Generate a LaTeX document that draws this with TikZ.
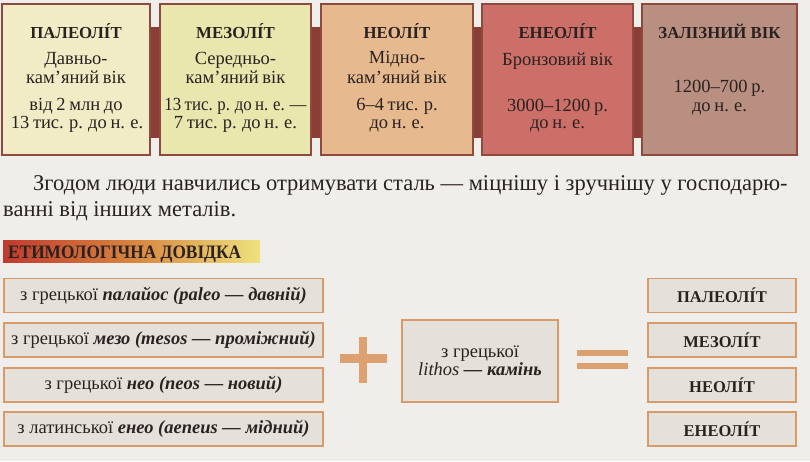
\documentclass[tikz,border=0pt]{standalone}
\usepackage{fontspec}
\setmainfont{Liberation Serif}
\definecolor{bgc}{HTML}{F0EEEB}
\definecolor{txt}{HTML}{2A2220}
\definecolor{tborder}{HTML}{8E4A3E}
\definecolor{band}{HTML}{8A3F36}
\definecolor{cA}{HTML}{F2ECC6}
\definecolor{cB}{HTML}{E9E6AE}
\definecolor{cC}{HTML}{E7B98F}
\definecolor{cD}{HTML}{CC6F68}
\definecolor{cE}{HTML}{B88F80}
\definecolor{efill}{HTML}{E4E0DA}
\definecolor{eborder}{HTML}{D89A68}
\definecolor{sym}{HTML}{DDA070}
\definecolor{bannerL}{HTML}{C03A2E}
\definecolor{bannerM}{HTML}{D8843E}
\definecolor{bannerR}{HTML}{EEE27C}
\newcommand{\tightsp}{\spaceskip=0.2em plus 0.05em minus 0.02em\relax}
\tikzset{
  topbox/.style={draw=tborder, line width=1.8pt, fill=#1, minimum height=151pt, inner sep=0pt},
  hd/.style={font=\bfseries\fontsize{16.8}{18}\selectfont, anchor=base, text=txt, inner sep=0pt},
  tx/.style={font=\fontsize{18.5}{20}\selectfont\tightsp, anchor=base, text=txt, inner sep=0pt},
  ebox/.style={draw=eborder, line width=1.4pt, fill=efill, text=txt, inner sep=0pt, minimum height=34pt},
  etx/.style={font=\fontsize{18.5}{20}\selectfont},
  ehd/.style={font=\bfseries\fontsize{16.5}{18}\selectfont},
  symbar/.style={fill=sym, inner sep=0pt},
  para/.style={font=\fontsize{22.5}{24}\selectfont, anchor=base west, text=txt, inner sep=0pt}
}
\newcommand{\ety}[1]{{\bfseries\itshape #1}}
\begin{document}
\begin{tikzpicture}[x=1pt,y=-1pt]
\useasboundingbox (0,0) rectangle (810,461);
\fill[bgc] (0,0) rectangle (810,461);
% band behind top boxes
\node[fill=band, minimum width=792pt, minimum height=111pt, inner sep=0pt] (band) at (399,82.5) {};
% top boxes
\node[topbox=cA, minimum width=148pt] (p1) at (76,79.5) {};
\node[topbox=cB, minimum width=151pt] (p2) at (235.5,79.5) {};
\node[topbox=cC, minimum width=152pt] (p3) at (397,79.5) {};
\node[topbox=cD, minimum width=151pt] (p4) at (557.5,79.5) {};
\node[topbox=cE, minimum width=155pt] (p5) at (719.5,79.5) {};
% box 1
\node[hd] (p1h) at (76,38) {ПАЛЕОЛІ́Т};
\node[tx] (p1a) at (76,64) {Давньо-};
\node[tx] (p1b) at (76,83) {кам'яний вік};
\node[tx] (p1c) at (76,110) {від 2 млн до};
\node[tx] (p1d) at (77,128) {13 тис. р. до н. е.};
% box 2
\node[hd] (p2h) at (235.5,38) {МЕЗОЛІ́Т};
\node[tx] (p2a) at (235.5,64) {Середньо-};
\node[tx] (p2b) at (235.5,83) {кам'яний вік};
\node[tx] (p2c) at (235.5,110) {\scalebox{0.91}[1]{13 тис. р. до н. е. —}};
\node[tx] (p2d) at (235.5,128) {7 тис. р. до н. е.};
% box 3
\node[hd] (p3h) at (397,38) {НЕОЛІ́Т};
\node[tx] (p3a) at (397,63) {Мідно-};
\node[tx] (p3b) at (397,83) {кам'яний вік};
\node[tx] (p3c) at (397,110) {6–4 тис. р.};
\node[tx] (p3d) at (397,128) {до н. е.};
% box 4
\node[hd] (p4h) at (557.5,38) {ЕНЕОЛІ́Т};
\node[tx] (p4a) at (557.5,65) {Бронзовий вік};
\node[tx] (p4c) at (557.5,111) {3000–1200 р.};
\node[tx] (p4d) at (557.5,128) {до н. е.};
% box 5
\node[hd] (p5h) at (719.5,38) {ЗАЛІЗНИЙ ВІК};
\node[tx] (p5c) at (719.5,92) {1200–700 р.};
\node[tx] (p5d) at (719.5,111) {до н. е.};
% paragraph
\node[para] (par1) at (33,190) {Згодом люди навчились отримувати сталь — міцнішу і зручнішу у господарю-};
\node[para] (par2) at (3,216) {ванні від інших металів.};
% banner
\node[left color=bannerL, right color=bannerR, middle color=bannerM, minimum width=257pt, minimum height=22pt, inner sep=0pt, anchor=north west] (ban) at (3,240) {};
\node[font=\bfseries\fontsize{19}{20}\selectfont, text=txt, anchor=base west, inner sep=0pt] (bant) at (8,258) {\scalebox{0.91}[1]{ЕТИМОЛОГІЧНА ДОВІДКА}};
% left etymology boxes
\node[ebox, etx, minimum width=319pt] (e1) at (163.5,295.5) {з грецької \ety{палайос (paleo — давній)}};
\node[ebox, etx, minimum width=319pt] (e2) at (163.5,340) {з грецької \ety{мезо (mesos — проміжний)}};
\node[ebox, etx, minimum width=319pt] (e3) at (163.5,385) {з грецької \ety{нео (neos — новий)}};
\node[ebox, etx, minimum width=319pt] (e4) at (163.5,429) {з латинської \ety{енео (aeneus — мідний)}};
% plus
\node[symbar, minimum width=47pt, minimum height=9pt] (plush) at (363.5,358) {};
\node[symbar, minimum width=8pt, minimum height=46pt] (plusv) at (363,360) {};
% middle box
\node[ebox, etx, minimum width=156pt, minimum height=82pt, align=center] (mid) at (480,361) {з грецької\\[-2pt]\textit{lithos} \ety{— камінь}};
% equals
\node[symbar, minimum width=51pt, minimum height=6pt] (eq1) at (602.5,353) {};
\node[symbar, minimum width=51pt, minimum height=6pt] (eq2) at (602.5,366) {};
% right boxes
\node[ebox, ehd, minimum width=148pt] (r1) at (722,295.5) {ПАЛЕОЛІ́Т};
\node[ebox, ehd, minimum width=148pt] (r2) at (722,340) {МЕЗОЛІ́Т};
\node[ebox, ehd, minimum width=148pt] (r3) at (722,385) {НЕОЛІ́Т};
\node[ebox, ehd, minimum width=148pt] (r4) at (722,429) {ЕНЕОЛІ́Т};
\end{tikzpicture}
\end{document}
